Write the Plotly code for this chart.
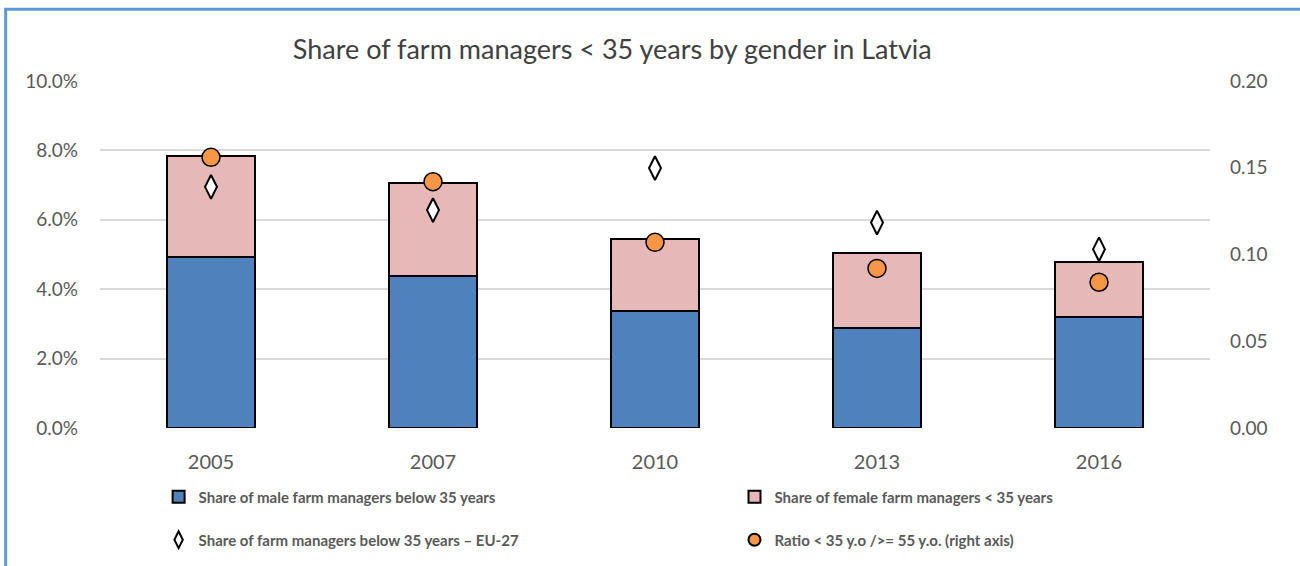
import plotly.graph_objects as go

years = ["2005", "2007", "2010", "2013", "2016"]
male_share = [0.0494, 0.0438, 0.0338, 0.0288, 0.0320]
total_share = [0.0785, 0.0707, 0.0545, 0.0504, 0.0479]
female_share = [round(t - m, 4) for t, m in zip(total_share, male_share)]
eu27_share = [0.0695, 0.0628, 0.0749, 0.0592, 0.0515]
ratio_young_old = [0.156, 0.142, 0.107, 0.092, 0.084]

grey = "#595959"
font = "Lato, 'Open Sans', sans-serif"

fig = go.Figure()
fig.add_trace(go.Bar(
    x=years, y=male_share, name="Share of male farm managers below 35 years",
    marker=dict(color="#4F81BD", line=dict(color="black", width=2)),
    legend="legend",
))
fig.add_trace(go.Bar(
    x=years, y=female_share, name="Share of female farm managers < 35 years",
    marker=dict(color="#E6B9B8", line=dict(color="black", width=2)),
    legend="legend2",
))
fig.add_trace(go.Scatter(
    x=years, y=eu27_share, mode="markers",
    name="Share of farm managers below 35 years \u2013 EU-27",
    marker=dict(symbol="diamond-tall", size=17, color="white",
                line=dict(color="black", width=2)),
    legend="legend3",
))
fig.add_trace(go.Scatter(
    x=years, y=ratio_young_old, mode="markers", yaxis="y2",
    name="Ratio < 35 y.o /&gt;= 55 y.o. (right axis)",
    marker=dict(symbol="circle", size=18, color="#F79646",
                line=dict(color="black", width=1.5)),
    legend="legend4",
))


def legend_box(x, y):
    return dict(
        orientation="h", xref="container", yref="container",
        x=x, xanchor="left", y=y, yanchor="middle",
        itemsizing="constant", itemwidth=30,
        font=dict(family=font, size=15, color=grey, weight="bold"),
        bgcolor="rgba(0,0,0,0)", itemclick=False, itemdoubleclick=False,
    )


fig.update_layout(
    width=1300, height=566,
    margin=dict(l=100, r=90, t=81, b=138),
    paper_bgcolor="white", plot_bgcolor="white",
    barmode="stack", bargap=0.6,
    title=dict(text="Share of farm managers < 35 years by gender in Latvia",
               x=0.471, xanchor="center", y=0.912, yanchor="middle",
               font=dict(family=font, size=27, color="#404040")),
    font=dict(family=font, color=grey),
    xaxis=dict(tickfont=dict(size=20, color=grey), ticklabelstandoff=20,
               showgrid=False, showline=False, automargin=False),
    yaxis=dict(range=[0, 0.10], dtick=0.02, tickformat=".1%",
               tickfont=dict(size=19, color=grey), ticklabelstandoff=21,
               gridcolor="#D9D9D9", gridwidth=2, zeroline=False,
               automargin=False),
    yaxis2=dict(range=[0, 0.20], dtick=0.05, tickformat=".2f", overlaying="y",
                side="right", showgrid=False, zeroline=False,
                tickfont=dict(size=19, color=grey), ticklabelstandoff=19,
                automargin=False),
    legend=legend_box(0.122, 0.122),
    legend2=legend_box(0.565, 0.122),
    legend3=legend_box(0.122, 0.046),
    legend4=legend_box(0.565, 0.046),
    showlegend=True,
    shapes=[dict(type="rect", xref="paper", yref="paper",
                 x0=-0.085, x1=1.3, y0=-0.6, y1=1.207,
                 line=dict(color="#5B9BD5", width=3), layer="below")],
)

# drop the browser's default 8px page margin so the figure sits at 0,0
fig.write_html("out.html", config={"displayModeBar": False},
               post_script="document.body.style.margin='0';")
